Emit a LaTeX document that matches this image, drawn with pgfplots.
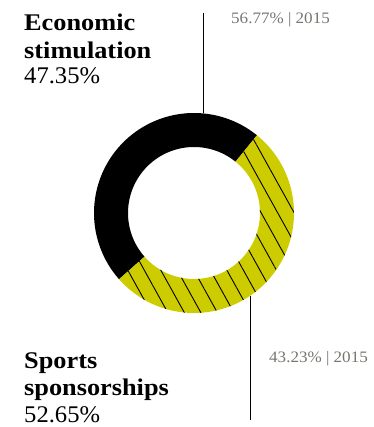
\documentclass[border=0pt]{standalone}
\usepackage{pgfplots}
\pgfplotsset{compat=1.18}
\usepgfplotslibrary{fillbetween}
\usetikzlibrary{patterns.meta}
\usepackage{fontspec}
\setmainfont{Liberation Serif}
\newfontfamily\headfont{Liberation Serif}[FakeStretch=1.1]
\newfontfamily\numfont{Liberation Serif}[FakeStretch=1.03]
\newfontfamily\grayfont{Liberation Serif}[FakeStretch=1.07]
\definecolor{ycol}{RGB}{204,204,0}
\definecolor{gtext}{RGB}{118,118,112}
\begin{document}
\begin{tikzpicture}
% shares (percent)
\def\valA{47.35}% Economic stimulation
\def\valB{52.65}% Sports sponsorships
\pgfmathsetmacro\angS{51}
\pgfmathsetmacro\angM{\angS+3.6*\valA}
\pgfmathsetmacro\angE{\angM+3.6*\valB}
\begin{axis}[x=1bp,y=1bp,xmin=0,xmax=374,ymin=0,ymax=427,
  hide axis, clip=false, scale only axis]
\path (axis cs:0,0) rectangle (axis cs:374,427);
% ring segment: Economic stimulation
\addplot[draw=none,name path=oA,domain=\angS:\angM,samples=120,variable=\t] ({194+100*cos(t)},{214+100*sin(t)});
\addplot[draw=none,name path=iA,domain=\angS:\angM,samples=120,variable=\t] ({194+66*cos(t)},{214+66*sin(t)});
\addplot[black] fill between[of=oA and iA];
% ring segment: Sports sponsorships
\addplot[draw=none,name path=oB,domain=\angM:\angE,samples=120,variable=\t] ({194+100*cos(t)},{214+100*sin(t)});
\addplot[draw=none,name path=iB,domain=\angM:\angE,samples=120,variable=\t] ({194+66*cos(t)},{214+66*sin(t)});
\addplot[ycol] fill between[of=oB and iB];
\addplot[pattern={Lines[angle=-61,distance=14.5pt,line width=0.9pt]},pattern color=black] fill between[of=oB and iB];
% leader lines
\addplot[black,line width=0.8pt] coordinates {(203,414) (203,314)};
\addplot[black,line width=0.8pt] coordinates {(250,131) (250,7)};
% labels
\node[anchor=base west,inner sep=0] at (axis cs:24,396) {\fontsize{24}{26}\selectfont\headfont\bfseries Economic};
\node[anchor=base west,inner sep=0] at (axis cs:24,369) {\fontsize{24}{26}\selectfont\headfont\bfseries stimulation};
\node[anchor=base west,inner sep=0] at (axis cs:24,344) {\fontsize{24}{26}\selectfont\numfont 47.35\%};
\node[anchor=base west,inner sep=0] at (axis cs:24,59) {\fontsize{24}{26}\selectfont\headfont\bfseries Sports};
\node[anchor=base west,inner sep=0] at (axis cs:24,32) {\fontsize{24}{26}\selectfont\headfont\bfseries sponsorships};
\node[anchor=base west,inner sep=0] at (axis cs:24,5) {\fontsize{24}{26}\selectfont\numfont 52.65\%};
\node[anchor=base west,inner sep=0,text=gtext] at (axis cs:231,403) {\fontsize{16}{18}\selectfont\grayfont 56.77\% | 2015};
\node[anchor=base west,inner sep=0,text=gtext] at (axis cs:269,65) {\fontsize{16}{18}\selectfont\grayfont 43.23\% | 2015};
\end{axis}
\end{tikzpicture}
\end{document}
